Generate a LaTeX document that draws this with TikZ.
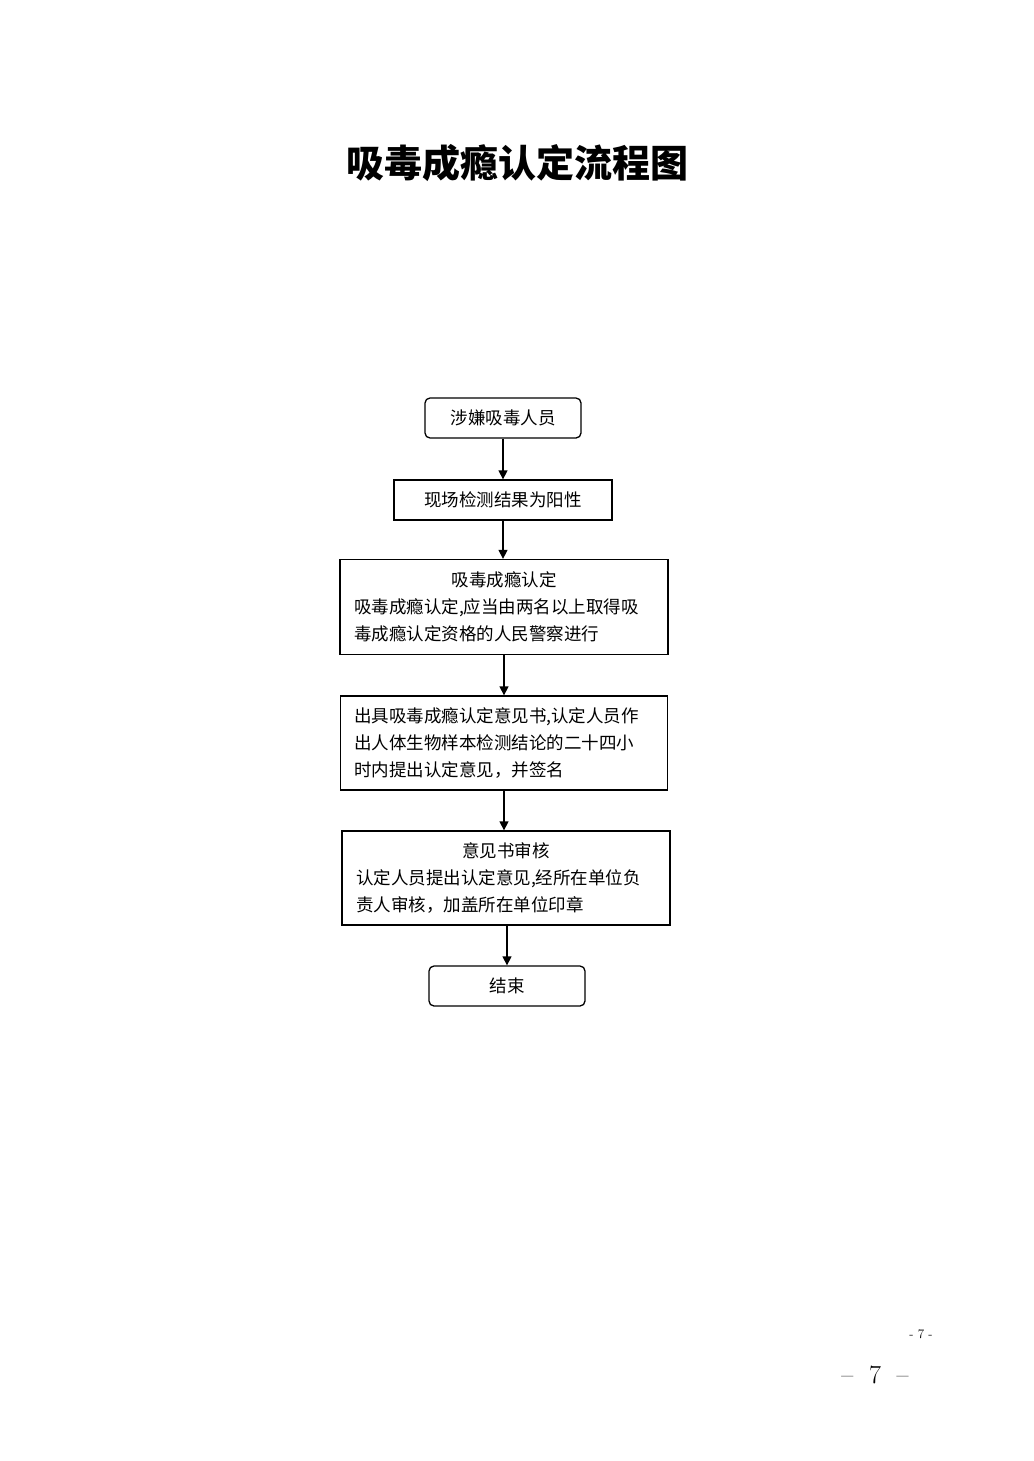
\documentclass[tikz,border=0pt]{standalone}
\usepackage{fontspec}
\newfontfamily\cjk{Noto Sans CJK SC}
\usetikzlibrary{arrows.meta}

\tikzset{
  rbox/.style={draw, line width=1.3pt, rounded corners=5pt, inner sep=0pt,
    font=\cjk\fontsize{17.5}{27}\selectfont},
  pbox/.style={draw, line width=1.3pt, inner sep=0pt,
    font=\cjk\fontsize{17.5}{27}\selectfont},
  step arrow/.style={line width=1.3pt, -{Triangle[length=9pt,width=9pt]}}
}

\begin{document}
\begin{tikzpicture}[x=1pt,y=-1pt]
    \useasboundingbox (0,0) rectangle (1033,1461);

    \node (title) at (517, 163) {\cjk\bfseries\fontsize{38}{42}\selectfont 吸毒成瘾认定流程图};

    \node[rbox, minimum width=156pt, minimum height=40pt] (start) at (503, 418) {涉嫌吸毒人员};
    \node[pbox, minimum width=218pt, minimum height=40pt] (test) at (503, 500) {现场检测结果为阳性};
    \node[pbox, minimum width=328pt, minimum height=95pt, text width=300pt, align=left] (identify) at (504, 607)
      {\makebox[300pt]{吸毒成瘾认定}\\吸毒成瘾认定,应当由两名以上取得吸\\毒成瘾认定资格的人民警察进行};
    \node[pbox, minimum width=327pt, minimum height=94pt, text width=300pt, align=left] (opinion) at (504, 743)
      {出具吸毒成瘾认定意见书,认定人员作\\出人体生物样本检测结论的二十四小\\时内提出认定意见，并签名};
    \node[pbox, minimum width=328pt, minimum height=94pt, text width=300pt, align=left] (review) at (506, 878)
      {\makebox[300pt]{意见书审核}\\认定人员提出认定意见,经所在单位负\\责人审核，加盖所在单位印章};
    \node[rbox, minimum width=156pt, minimum height=40pt] (finish) at (507, 986) {结束};

    \draw [step arrow] (start) -- (start |- test.north);
    \draw [step arrow] (test) -- (test |- identify.north);
    \draw [step arrow] (identify) -- (identify |- opinion.north);
    \draw [step arrow] (opinion) -- (opinion |- review.north);
    \draw [step arrow] (review.south -| finish) -- (finish);

    \node (pagesmall) at (921, 1334) {\fontsize{13}{15}\selectfont - 7 -};
    \node (pagebig) at (875, 1375) {\fontsize{26}{30}\selectfont \textendash\ \ 7\ \ \textendash};

  \end{tikzpicture}
\end{document}
